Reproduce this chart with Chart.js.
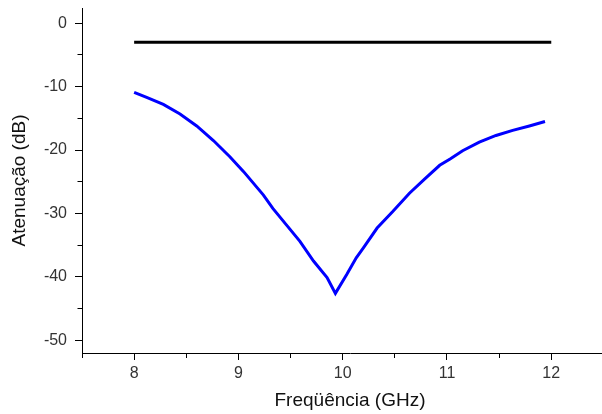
<!DOCTYPE html>
<html>
<head>
<meta charset="utf-8">
<script src="https://cdn.jsdelivr.net/npm/chart.js@4/dist/chart.umd.min.js"></script>
<style>
html, body { margin: 0; padding: 0; overflow: hidden; background: #fff; }
canvas { display: block; }
</style>
</head>
<body>
<canvas id="c" width="618" height="414" style="width:618px;height:414px"></canvas>
<script>
// Frequency (GHz) and attenuation (dB)
const refFreq = [8, 12];
const refAtten = [-3, -3];

const blueFreq = [8.0, 8.12, 8.28, 8.44, 8.60, 8.76, 8.92, 9.05, 9.24, 9.33, 9.46, 9.59, 9.72, 9.85, 9.93,
  10.04, 10.13, 10.20, 10.33, 10.48, 10.64, 10.79, 10.93, 11.03, 11.15, 11.31, 11.47, 11.63, 11.79, 11.94];
const blueAtten = [-10.9, -11.7, -12.8, -14.3, -16.2, -18.5, -21.1, -23.4, -27.1, -29.2, -31.8, -34.4, -37.5, -40.1, -42.6,
  -39.6, -37.0, -35.4, -32.3, -29.7, -26.8, -24.5, -22.4, -21.4, -20.1, -18.75, -17.7, -16.9, -16.2, -15.5];

const xTickLabels = [8, 9, 10, 11, 12];
const yTickLabels = [0, -10, -20, -30, -40, -50];

const xTitle = 'Freqüência (GHz)';
const yTitle = 'Atenuação (dB)';

const toPts = (xs, ys) => xs.map((x, i) => ({ x: x, y: ys[i] }));
const FONT = '"Liberation Sans", Arial, sans-serif';

new Chart(document.getElementById('c'), {
  type: 'scatter',
  data: {
    datasets: [
      { data: toPts(refFreq, refAtten), showLine: true, borderColor: '#000000', borderWidth: 3,
        pointRadius: 0, pointHoverRadius: 0, tension: 0 },
      { data: toPts(blueFreq, blueAtten), showLine: true, borderColor: '#0000ff', borderWidth: 3,
        pointRadius: 0, pointHoverRadius: 0, tension: 0 }
    ]
  },
  options: {
    responsive: false,
    animation: false,
    layout: { padding: { top: 8, left: 0, right: 0, bottom: 0 } },
    plugins: { legend: { display: false }, tooltip: { enabled: false } },
    scales: {
      x: {
        type: 'linear',
        min: 7.5, max: 12.64,
        border: { display: true, color: '#000', width: 1 },
        grid: {
          drawOnChartArea: false, drawTicks: true, tickLength: 7, color: '#000',
          tickBorderDash: (ctx) => (ctx.tick && xTickLabels.includes(ctx.tick.value)) ? [] : [4, 100]
        },
        ticks: {
          stepSize: 0.5, includeBounds: false, autoSkip: false, maxRotation: 0,
          padding: 4, color: '#333',
          font: { family: FONT, size: 16 },
          callback: (v) => xTickLabels.includes(v) ? String(v) : ''
        },
        title: { display: true, text: xTitle, color: '#111',
          font: { family: FONT, size: 19 }, padding: { top: 0, bottom: 2 } },
        afterFit: (s) => { s.height = 61; s.paddingLeft = 0; s.paddingRight = 0; }
      },
      y: {
        type: 'linear',
        min: -52, max: 2.4,
        border: { display: true, color: '#000', width: 1 },
        grid: {
          drawOnChartArea: false, drawTicks: true, tickLength: 7, color: '#000',
          tickBorderDash: (ctx) => (ctx.tick && yTickLabels.includes(ctx.tick.value)) ? [] : [0, 2.5, 5, 100]
        },
        ticks: {
          stepSize: 5, includeBounds: false, autoSkip: false,
          padding: 8, color: '#333',
          font: { family: FONT, size: 16 },
          callback: (v) => yTickLabels.includes(v) ? String(v) : ''
        },
        title: { display: true, text: yTitle, color: '#111',
          font: { family: FONT, size: 19 }, padding: { top: 8, bottom: 0 } },
        afterFit: (s) => { s.width = 82; s.paddingTop = 0; s.paddingBottom = 0; }
      }
    }
  }
});
</script>
</body>
</html>
